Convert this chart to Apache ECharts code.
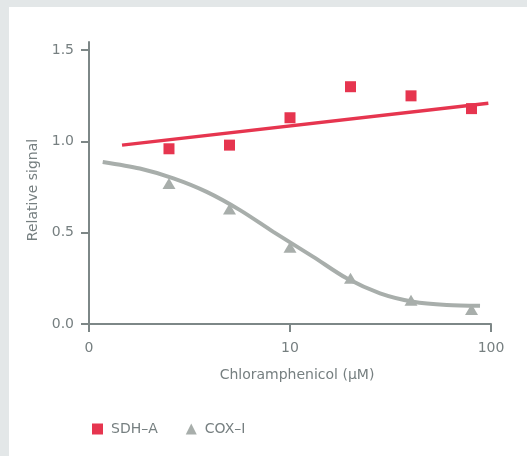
<!DOCTYPE html>
<html>
<head>
<meta charset="utf-8">
<script src="https://cdn.jsdelivr.net/npm/echarts@6/dist/echarts.min.js"></script>
<style>
  html, body { margin: 0; padding: 0; width: 527px; height: 456px; background: #e3e7e8; overflow: hidden; }
  #chart { position: absolute; left: 9px; top: 7px; width: 518px; height: 449px; background: #ffffff; }
</style>
</head>
<body>
<div id="chart"></div>
<script>
// Chloramphenicol concentrations (µM)
const concentrations = [2.5, 5, 10, 20, 40, 80];
// Measured relative signal
const sdhValues = [0.96, 0.98, 1.13, 1.30, 1.25, 1.18];
const coxValues = [0.77, 0.63, 0.42, 0.25, 0.13, 0.08];

// Linear trend for SDH-A (log concentration)
const sdhFitX = [1.46, 97];
const sdhFitY = [0.98, 1.21];

// Dose-response curve for COX-I
const coxFitX = [1.17, 1.79, 2.63, 3.85, 5.64, 8.26, 13.06, 19.15, 28.05, 41.0, 60.2, 88.2];
const coxFitY = [0.888, 0.852, 0.798, 0.724, 0.624, 0.505, 0.368, 0.250, 0.168, 0.122, 0.104, 0.100];

// Axis ticks
const xTickValues = [1, 10, 100];
const xTickLabels = ['0', '10', '100'];
const yTickValues = [0, 0.5, 1.0, 1.5];

const RED = '#e6354f';
const GREY = '#a8aeab';
const AXIS = '#7d8787';
const TEXT = '#767f80';
const FONT = 'DejaVu Sans';

const pairs = (xs, ys) => xs.map((x, i) => [x, ys[i]]);

const chart = echarts.init(document.getElementById('chart'), null, { renderer: 'canvas' });
chart.setOption({
  animation: false,
  backgroundColor: '#ffffff',
  textStyle: { fontFamily: FONT },
  grid: { left: 80, right: 36, top: 35, bottom: 132 },
  legend: {
    left: 78,
    top: 410,
    itemWidth: 11,
    itemHeight: 11,
    itemGap: 28,
    data: [
      { name: 'SDH–A', icon: 'rect' },
      { name: 'COX–I', icon: 'triangle' }
    ],
    textStyle: { color: TEXT, fontSize: 14, fontFamily: FONT, padding: [0, 0, 0, 3] }
  },
  xAxis: {
    type: 'log',
    logBase: 10,
    min: 1,
    max: 100,
    name: 'Chloramphenicol (µM)',
    nameLocation: 'middle',
    nameGap: 44,
    nameTextStyle: { color: TEXT, fontSize: 14, fontFamily: FONT, padding: [0, 0, 0, 14] },
    axisLine: { show: true, lineStyle: { color: AXIS, width: 2 } },
    axisTick: { show: true, length: 8, lineStyle: { color: AXIS, width: 2 } },
    minorTick: { show: false },
    splitLine: { show: false },
    axisLabel: {
      color: TEXT, fontSize: 14, fontFamily: FONT, margin: 17,
      formatter: v => {
        const i = xTickValues.findIndex(t => Math.abs(t - v) < 1e-6);
        return i >= 0 ? xTickLabels[i] : '';
      }
    }
  },
  yAxis: {
    type: 'value',
    min: 0,
    max: 1.545,
    name: 'Relative signal',
    nameLocation: 'middle',
    nameGap: 47,
    nameTextStyle: { color: TEXT, fontSize: 14, fontFamily: FONT, padding: [0, 14, 0, 0] },
    axisLine: { show: true, lineStyle: { color: AXIS, width: 2 } },
    axisTick: { show: true, length: 8, lineStyle: { color: AXIS, width: 2 }, customValues: yTickValues },
    splitLine: { show: false },
    axisLabel: {
      color: TEXT, fontSize: 14, fontFamily: FONT, margin: 15,
      customValues: yTickValues,
      formatter: v => v.toFixed(1)
    }
  },
  series: [
    {
      name: 'SDH fit',
      type: 'line',
      data: pairs(sdhFitX, sdhFitY),
      showSymbol: false,
      lineStyle: { color: RED, width: 3.5 },
      z: 2,
      silent: true
    },
    {
      name: 'COX fit',
      type: 'line',
      data: pairs(coxFitX, coxFitY),
      smooth: 0.3,
      showSymbol: false,
      lineStyle: { color: GREY, width: 4 },
      z: 2,
      silent: true
    },
    {
      name: 'SDH–A',
      type: 'scatter',
      data: pairs(concentrations, sdhValues),
      symbol: 'rect',
      symbolSize: 11,
      itemStyle: { color: RED, opacity: 1 },
      z: 3
    },
    {
      name: 'COX–I',
      type: 'scatter',
      data: pairs(concentrations, coxValues),
      symbol: 'triangle',
      symbolSize: [13, 11],
      itemStyle: { color: GREY, opacity: 1 },
      z: 3
    }
  ]
});
</script>
</body>
</html>
